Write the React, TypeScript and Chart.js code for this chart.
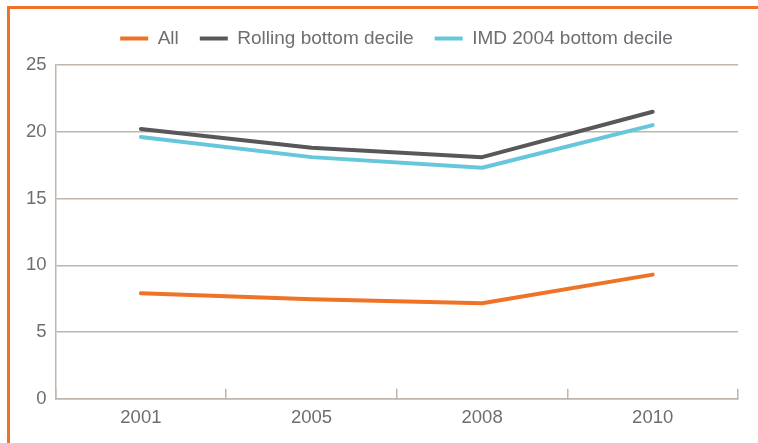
import React, { useEffect, useRef } from "react";
import { Chart, registerables } from "chart.js";

Chart.register(...registerables);

const categories = ["2001", "2005", "2008", "2010"];
const allValues = [7.9, 7.45, 7.15, 9.3];
const rollingValues = [20.2, 18.8, 18.1, 21.5];
const imdValues = [19.6, 18.1, 17.3, 20.5];
const seriesNames = ["All", "Rolling bottom decile", "IMD 2004 bottom decile"];

const ORANGE = "#ee7326";
const GREY = "#58585a";
const BLUE = "#66c6dc";
const GRID = "#bfb5ac";
const TEXT = "#6d6e71";
const FONT = "'Liberation Sans', Arial, Helvetica, sans-serif";

export default function App() {
  const ref = useRef<HTMLCanvasElement | null>(null);

  useEffect(() => {
    if (!ref.current) return;
    const mk = (label: string, data: number[], color: string) => ({
      label,
      data,
      borderColor: color,
      backgroundColor: color,
      borderWidth: 4,
      pointRadius: 0,
      pointHoverRadius: 0,
      pointStyle: "line" as const,
      borderCapStyle: "round" as const,
      borderJoinStyle: "round" as const,
      tension: 0,
      fill: false,
    });
    const legendMargin = {
      id: "legendMargin",
      beforeInit(chart: any) {
        const legend = chart.legend;
        if (!legend) return;
        const orig = legend.fit;
        legend.fit = function () {
          orig.call(this);
          this.height += 7;
        };
      },
      afterLayout(chart: any) {
        const legend = chart.legend;
        if (!legend) return;
        legend.left += 19;
        legend.right += 19;
      },
    };
    const chart = new Chart(ref.current, {
      type: "line",
      data: {
        labels: categories,
        datasets: [
          mk(seriesNames[0], allValues, ORANGE),
          mk(seriesNames[1], rollingValues, GREY),
          mk(seriesNames[2], imdValues, BLUE),
        ],
      },
      plugins: [legendMargin],
      options: {
        animation: false,
        responsive: true,
        maintainAspectRatio: false,
        layout: { padding: { left: 17, right: 20, top: 8, bottom: -4 } },
        plugins: {
          tooltip: { enabled: false },
          legend: {
            display: true,
            position: "top",
            align: "center",
            labels: {
              usePointStyle: true,
              pointStyleWidth: 28,
              boxHeight: 19,
              padding: 21,
              color: TEXT,
              font: { family: FONT, size: 19 },
            },
          },
        },
        scales: {
          x: {
            offset: true,
            grid: {
              display: true,
              offset: true,
              drawOnChartArea: false,
              drawTicks: true,
              tickLength: -10,
              color: GRID,
              lineWidth: 1.5,
            },
            border: { display: true, color: GRID, width: 1.5 },
            ticks: {
              color: TEXT,
              padding: 18,
              font: { family: FONT, size: 18.5 },
            },
          },
          y: {
            min: 0,
            max: 25,
            ticks: {
              stepSize: 5,
              color: TEXT,
              padding: 9,
              font: { family: FONT, size: 18.5 },
            },
            grid: {
              color: GRID,
              lineWidth: 1.5,
              drawTicks: false,
            },
            border: { display: true, color: GRID, width: 1.5 },
          },
        },
      },
    });
    return () => chart.destroy();
  }, []);

  return (
    <div style={{ position: "fixed", left: 0, top: 0, width: 758, height: 443, background: "#fff" }}>
      <div
        style={{
          position: "absolute",
          left: 7,
          top: 6,
          width: 751,
          height: 437,
          boxSizing: "border-box",
          borderTop: `3px solid ${ORANGE}`,
          borderLeft: `3px solid ${ORANGE}`,
        }}
      />
      <div style={{ position: "absolute", left: 0, top: 0, width: 758, height: 443 }}>
        <canvas ref={ref} />
      </div>
    </div>
  );
}
